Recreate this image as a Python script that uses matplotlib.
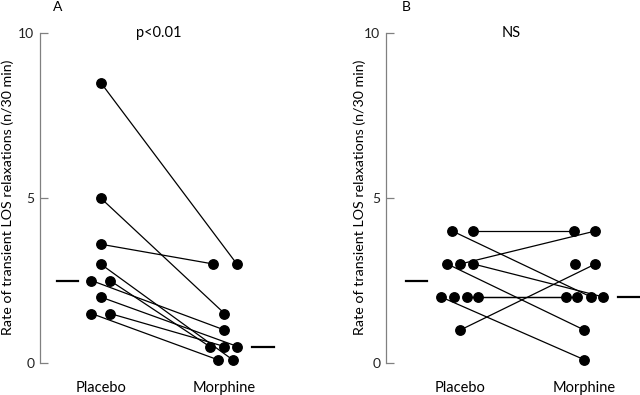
import matplotlib
matplotlib.use("Agg")
import matplotlib.pyplot as plt

plt.rcParams['font.family'] = ['Lato', 'DejaVu Sans']

# Panel A: paired values (placebo -> morphine)
a_placebo = [8.5, 5.0, 3.6, 3.0, 2.5, 2.5, 2.0, 1.5, 1.5]
a_morphine = [3.0, 1.5, 3.0, 0.1, 1.0, 0.5, 0.5, 0.1, 0.5]
a_means = [2.5, 0.5]
a_title = "p<0.01"

# Panel B: paired values (placebo -> morphine)
b_placebo = [4.0, 4.0, 3.0, 3.0, 3.0, 2.0, 2.0, 2.0, 1.0, 2.0]
b_morphine = [4.0, 2.0, 4.0, 2.0, 1.0, 0.1, 2.0, 2.0, 3.0, 3.0]
b_linked = [True] * 9 + [False]
b_means = [2.5, 2.0]
b_title = "NS"

groups = ["Placebo", "Morphine"]
ylabel = "Rate of transient LOS relaxations (n/30 min)"

# horizontal jitter of overlapping dots (in x units)
a_poff = [0, 0, 0, 0, -0.075, 0.075, 0, -0.075, 0.075]
a_moff = [0.10, 0, -0.09, 0.065, 0, -0.12, 0.105, -0.055, 0]
b_poff = [0.10, -0.065, 0, 0.105, -0.105, -0.155, 0.05, 0.145, 0, -0.055]
b_moff = [-0.08, 0.055, 0.09, 0.155, 0, 0, -0.145, -0.055, 0.09, -0.075]

fig = plt.figure(figsize=(6.4, 3.95), dpi=100)
axA = fig.add_axes([40 / 640, 32 / 395, 260 / 640, 330 / 395])
axB = fig.add_axes([386 / 640, 32 / 395, 254 / 640, 330 / 395])


def panel(ax, pl, mo, poff, moff, linked, means, mean_x, title, title_x, xlim):
    for i in range(len(pl)):
        x0, x1 = 0 + poff[i], 1 + moff[i]
        if linked[i]:
            ax.plot([x0, x1], [pl[i], mo[i]], color='black', lw=0.9,
                    clip_on=False, zorder=2)
    ax.plot([0 + o for o in poff], pl, 'o', color='black', ms=6.8,
            clip_on=False, zorder=3)
    ax.plot([1 + o for o in moff], mo, 'o', color='black', ms=6.8,
            clip_on=False, zorder=3)
    for k, ((xa, xb), m) in enumerate(zip(mean_x, means)):
        ax.plot([k + xa, k + xb], [m, m], color='black', lw=1.6, clip_on=False)

    ax.set_xlim(*xlim)
    ax.set_ylim(0, 10)
    ax.set_yticks([0, 5, 10])
    ax.set_xticks([])
    for s in ['top', 'right', 'bottom']:
        ax.spines[s].set_visible(False)
    ax.spines['left'].set_color('#808080')
    ax.spines['left'].set_linewidth(0.9)
    ax.tick_params(axis='y', direction='in', length=6, width=0.9,
                   color='#808080', labelsize=10, pad=4, labelcolor='#222222')
    ax.patch.set_alpha(0)

    ax.text(title_x, 10, title, ha='center', va='center', fontsize=10.5)
    for k, g in enumerate(groups):
        ax.text(k, -0.76, g, ha='center', va='center', fontsize=10.5,
                clip_on=False)


panel(axA, a_placebo, a_morphine, a_poff, a_moff, [True] * 9, a_means,
      [(-0.35, -0.18), (0.22, 0.40)], a_title, 0.47, (-0.49, 1.61))

panel(axB, b_placebo, b_morphine, b_poff, b_moff, b_linked, b_means,
      [(-0.435, -0.266), (0.274, 0.45)], b_title, 0.41, (-0.60, 1.45))

fig.text(8 / 640, 1 - 197 / 395, ylabel, rotation=90, ha='center',
         va='center', fontsize=10.3)
fig.text(360 / 640, 1 - 197 / 395, ylabel, rotation=90, ha='center',
         va='center', fontsize=10.3)

fig.text(58 / 640, 1 - 7 / 395, "A", ha='center', va='center', fontsize=10)
fig.text(406 / 640, 1 - 7 / 395, "B", ha='center', va='center', fontsize=10)

fig.savefig("out.png", dpi=100)
